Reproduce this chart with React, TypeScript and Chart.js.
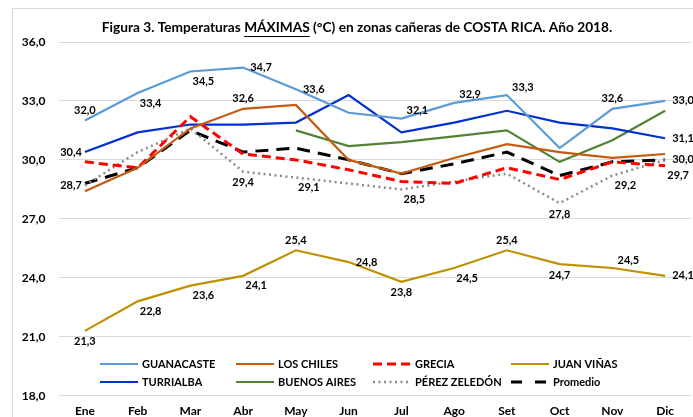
import React, { useEffect, useRef } from "react";
import { Chart, registerables } from "chart.js";
Chart.register(...registerables);

const months = ["Ene", "Feb", "Mar", "Abr", "May", "Jun", "Jul", "Ago", "Set", "Oct", "Nov", "Dic"];
const guanacaste = [32.0, 33.4, 34.5, 34.7, 33.6, 32.4, 32.1, 32.9, 33.3, 30.6, 32.6, 33.0];
const losChiles = [28.4, 29.6, 31.6, 32.6, 32.8, 30.0, 29.3, 30.1, 30.8, 30.4, 30.1, 30.3];
const grecia = [29.9, 29.6, 32.2, 30.3, 30.0, 29.5, 28.9, 28.8, 29.6, 29.0, 29.9, 29.7];
const juanVinas = [21.3, 22.8, 23.6, 24.1, 25.4, 24.8, 23.8, 24.5, 25.4, 24.7, 24.5, 24.1];
const turrialba = [30.4, 31.4, 31.8, 31.8, 31.9, 33.3, 31.4, 31.9, 32.5, 31.9, 31.6, 31.1];
const buenosAires = [null, null, null, null, 31.5, 30.7, 30.9, 31.2, 31.5, 29.9, 31.0, 32.5];
const perezZeledon = [28.7, 30.4, 31.6, 29.4, 29.1, 28.8, 28.5, 28.9, 29.3, 27.8, 29.2, 30.0];
const promedio = [28.8, 29.6, 31.5, 30.4, 30.6, 30.0, 29.3, 29.8, 30.4, 29.2, 29.9, 30.0];
const yTicks = [18, 21, 24, 27, 30, 33, 36];

// data label placement codes (null = no label)
const guanacasteLbl = ["a", "br", "br", "r", "r", null, "ar", "ar", "ar", null, "a", "r"];
const losChilesLbl = [null, null, null, "a", null, null, null, null, null, null, null, null];
const greciaLbl = [null, null, null, null, null, null, null, null, null, null, null, "br"];
const juanVinasLbl = ["b", "br", "br", "br", "a", "r", "b", "br", "a", "b", "ar", "r"];
const turrialbaLbl = ["l", null, null, null, null, null, null, null, null, null, null, "r"];
const buenosAiresLbl = [null, null, null, null, null, null, null, null, null, null, null, null];
const perezLbl = ["l", null, null, "b", "br", null, "br", null, null, "b", "br", null];
const promedioLbl = [null, null, null, null, null, null, null, null, null, null, null, "r"];

const FONT = "Lato, 'Open Sans', sans-serif";

const offsets: Record<string, [number, number, CanvasTextAlign]> = {
  a: [0, -10, "center"],
  b: [0, 11, "center"],
  l: [-3, 0, "right"],
  r: [7, 0, "left"],
  ar: [16, -8, "center"],
  br: [13, 10, "center"],
};

const decor = {
  id: "decor",
  beforeDraw(chart: any) {
    const ctx = chart.ctx;
    ctx.save();
    ctx.strokeStyle = "#d9d9d9";
    ctx.lineWidth = 1;
    ctx.strokeRect(12.5, 8.5, 800, 600);
    ctx.restore();
  },
  afterDatasetsDraw(chart: any) {
    const ctx = chart.ctx;
    ctx.save();
    ctx.font = `bold 11px ${FONT}`;
    ctx.fillStyle = "#000";
    ctx.textBaseline = "middle";
    chart.data.datasets.forEach((ds: any, di: number) => {
      const meta = chart.getDatasetMeta(di);
      (ds.lbl || []).forEach((code: string | null, i: number) => {
        if (!code) return;
        const v = ds.data[i];
        if (v == null) return;
        const p = meta.data[i];
        const [dx, dy, align] = offsets[code];
        ctx.textAlign = align;
        ctx.fillText(v.toFixed(1).replace(".", ","), p.x + dx, p.y + dy);
      });
    });
    ctx.restore();
  },
  afterDraw(chart: any) {
    const ctx = chart.ctx;
    ctx.save();
    // title
    const parts = ["Figura 3. Temperaturas ", "MÁXIMAS", " (°C) en zonas cañeras de COSTA RICA. Año 2018."];
    ctx.font = `bold 13.7px ${FONT}`;
    ctx.fillStyle = "#000";
    ctx.textBaseline = "middle";
    ctx.textAlign = "left";
    const widths = parts.map((p) => ctx.measureText(p).width);
    const total = widths.reduce((a, b) => a + b, 0);
    let x = 357 - total / 2;
    const ty = 28;
    parts.forEach((p, i) => {
      ctx.fillText(p, x, ty);
      if (i === 1) {
        ctx.strokeStyle = "#000";
        ctx.lineWidth = 1;
        ctx.beginPath();
        ctx.moveTo(x, ty + 8.5);
        ctx.lineTo(x + widths[i], ty + 8.5);
        ctx.stroke();
      }
      x += widths[i];
    });
    // legend
    const cols = [100, 236, 373, 511];
    const rows = [364, 382];
    ctx.font = `bold 11px ${FONT}`;
    chart.data.datasets.forEach((ds: any, i: number) => {
      const cx = cols[i % 4];
      const cy = rows[Math.floor(i / 4)];
      ctx.save();
      ctx.strokeStyle = ds.borderColor;
      ctx.lineWidth = ds.borderWidth;
      ctx.setLineDash(ds.legendDash || ds.borderDash || []);
      ctx.beginPath();
      ctx.moveTo(cx, cy);
      ctx.lineTo(cx + 38, cy);
      ctx.stroke();
      ctx.restore();
      ctx.fillStyle = "#000";
      ctx.textAlign = "left";
      ctx.fillText(ds.label, cx + 42, cy);
    });
    ctx.restore();
  },
};

export default function App() {
  const ref = useRef<HTMLCanvasElement>(null);
  useEffect(() => {
    const canvas = ref.current!;
    const mk = (label: string, data: any[], color: string, width: number, lbl: any[], dash?: number[], legendDash?: number[]) => ({
      label,
      data,
      borderColor: color,
      backgroundColor: color,
      borderWidth: width,
      borderDash: dash || [],
      legendDash,
      lbl,
      pointRadius: 0,
      fill: false,
      tension: 0,
      spanGaps: false,
    });
    const chart = new Chart(canvas, {
      type: "line",
      data: {
        labels: months,
        datasets: [
          mk("GUANACASTE", guanacaste, "#5b9bd5", 2.2, guanacasteLbl),
          mk("LOS CHILES", losChiles, "#c55a11", 2.2, losChilesLbl),
          mk("GRECIA", grecia, "#ff0000", 3, greciaLbl, [9, 5]),
          mk("JUAN VIÑAS", juanVinas, "#bf9000", 2.2, juanVinasLbl),
          mk("TURRIALBA", turrialba, "#0033cc", 2.2, turrialbaLbl),
          mk("BUENOS AIRES", buenosAires, "#548235", 2.2, buenosAiresLbl),
          mk("PÉREZ ZELEDÓN", perezZeledon, "#8c8c8c", 2.5, perezLbl, [2, 3.5]),
          mk("Promedio", promedio, "#000000", 3, promedioLbl, [13, 8], [11, 13]),
        ] as any,
      },
      options: {
        responsive: false,
        animation: false,
        events: [],
        layout: { padding: { top: 42, right: 1.5, left: 0, bottom: 0 } },
        plugins: { legend: { display: false }, title: { display: false }, tooltip: { enabled: false } },
        scales: {
          x: {
            offset: true,
            grid: { display: false, drawTicks: false },
            border: { display: false },
            ticks: { font: { family: FONT, size: 12, weight: "bold" }, color: "#000", padding: 8, maxRotation: 0, autoSkip: false },
            afterFit: (s: any) => { s.height = 21.3; },
          },
          y: {
            min: yTicks[0],
            max: yTicks[yTicks.length - 1],
            afterBuildTicks: (s: any) => { s.ticks = yTicks.map((v) => ({ value: v })); },
            ticks: {
              font: { family: FONT, size: 12, weight: "bold" },
              color: "#000",
              padding: 13,
              callback: (v: any) => Number(v).toFixed(1).replace(".", ","),
            },
            grid: { color: "#d9d9d9", drawTicks: false, lineWidth: 1 },
            border: { display: false },
            afterFit: (s: any) => { s.width = 58.5; },
          },
        },
      },
      plugins: [decor],
    } as any);
    return () => chart.destroy();
  }, []);
  return (
    <div style={{ position: "fixed", left: 0, top: 0, width: 693, height: 417, background: "#fff" }}>
      <canvas ref={ref} width={693} height={417} style={{ display: "block" }} />
    </div>
  );
}
